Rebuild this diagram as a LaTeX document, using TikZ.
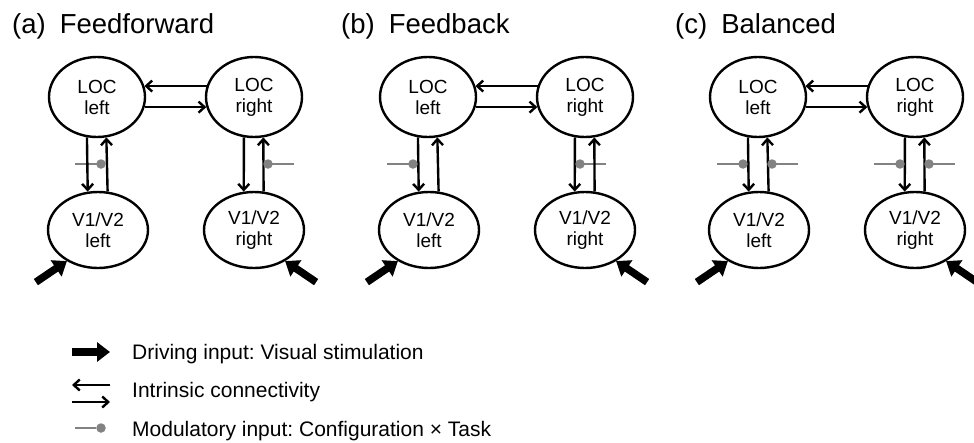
\documentclass[tikz,border=0pt]{standalone}
\usepackage{fontspec}
\setmainfont{Liberation Sans}
\usetikzlibrary{arrows.meta,shapes.geometric,calc}
\definecolor{modgray}{RGB}{130,130,130}
\frenchspacing
\begin{document}
\begin{tikzpicture}[x=1pt,y=-1pt,
  loc/.style={ellipse,draw,line width=2.4pt,minimum width=96pt,minimum height=80pt,align=center,font=\fontsize{19}{21}\selectfont,inner sep=0pt},
  vis/.style={loc,minimum width=100pt,minimum height=76pt},
  conn/.style={line width=2.4pt,-{Straight Barb[length=6pt,width=11pt]}},
  drive/.style={line width=7.5pt,-{Triangle[length=13pt,width=19pt]}},
  mod/.style={draw=modgray,line width=1.2pt},
  moddot/.style={circle,fill=modgray,inner sep=0pt,minimum size=9.5pt},
  ttl/.style={anchor=base west,font=\fontsize{27.5}{31}\selectfont,inner sep=0pt},
  leg/.style={anchor=base west,font=\fontsize{21}{24}\selectfont,inner sep=0pt}
]
\fill[white] (0,0) rectangle (974,442);
\useasboundingbox (0,0) rectangle (974,442);

% titles
\node[ttl] (ta) at (12,33) {(a)\hspace{14pt}Feedforward};
\node[ttl] (tb) at (341,33) {(b)\hspace{14pt}Feedback};
\node[ttl] (tc) at (675,33) {(c)\hspace{14pt}Balanced};

% modulatory lines (drawn under arrows)
\coordinate (aM1e) at (75,164);
\coordinate (aM2e) at (294,164);
\coordinate (bM1e) at (387,164);
\coordinate (bM2e) at (606,164);
\coordinate (cM1e) at (717,164);
\coordinate (cM2e) at (798,164);
\coordinate (cM3e) at (874,164);
\coordinate (cM4e) at (955,164);
\coordinate (aM1) at (101,164);
\coordinate (aM2) at (268,164);
\coordinate (bM1) at (413,164);
\coordinate (bM2) at (580,164);
\coordinate (cM1) at (743,164);
\coordinate (cM2) at (772,164);
\coordinate (cM3) at (900,164);
\coordinate (cM4) at (929,164);
\foreach \m in {aM1,aM2,bM1,bM2,cM1,cM2,cM3,cM4}{
  \draw[mod] (\m e) -- (\m);
}

\foreach \p/\o in {a/0,b/331,c/661}{
  \node[loc] (\p LL) at (97+\o,97) {LOC\\left};
  \node[loc] (\p LR) at (254+\o,97) {LOC\\right};
  \node[vis] (\p VL) at (98+\o,230) {V1/V2\\left};
  \node[vis] (\p VR) at (254+\o,230) {V1/V2\\right};
  % intrinsic connections
  \draw[conn] (\p LR.167) -- (\p LL.13);
  \draw[conn] (\p LL.348) -- (\p LR.192);
  \draw[conn] (\p LL.256) -- (\p VL.105);
  \draw[conn] (\p VL.76) -- (\p LL.283);
  \draw[conn] (\p LR.256) -- (\p VR.105);
  \draw[conn] (\p VR.76) -- (\p LR.283);
  % driving inputs
  \coordinate (\p DL) at ($(\p VL.225)+(-31,21)$);
  \coordinate (\p DR) at ($(\p VR.315)+(31,21)$);
  \draw[drive] (\p DL) -- (\p VL.225);
  \draw[drive] (\p DR) -- (\p VR.315);
}

% modulatory dots
\foreach \m in {aM1,aM2,bM1,bM2,cM1,cM2,cM3,cM4}{
  \node[moddot] (\m d) at (\m) {};
}

% legend
\coordinate (ld1) at (72,352);
\coordinate (ld2) at (110,352);
\draw[drive] (ld1) -- (ld2);
\coordinate (li1) at (110,385);
\coordinate (li2) at (72,385);
\draw[conn] (li1) -- (li2);
\coordinate (li3) at (72,402);
\coordinate (li4) at (110,402);
\draw[conn] (li3) -- (li4);
\coordinate (lm1) at (75,428);
\node[moddot] (lm2) at (101,428) {};
\draw[mod] (lm1) -- (lm2);

\node[leg] (l1) at (132,359.5) {Driving input: Visual stimulation};
\node[leg] (l2) at (132,397.5) {Intrinsic connectivity};
\node[leg] (l3) at (132,436.5) {Modulatory input: Configuration \texttimes{} Task};
\end{tikzpicture}
\end{document}
